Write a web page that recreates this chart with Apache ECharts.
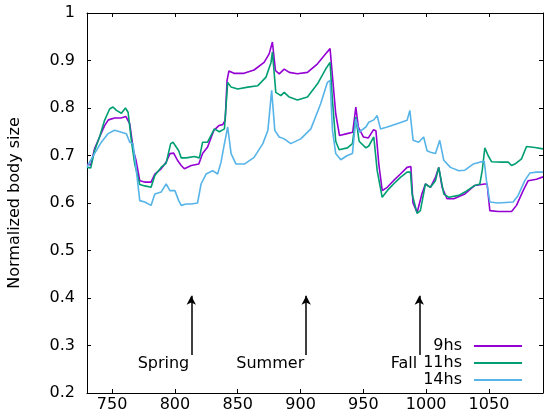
<!DOCTYPE html>
<html>
<head>
<meta charset="utf-8">
<script src="https://cdn.jsdelivr.net/npm/echarts@6/dist/echarts.min.js"></script>
<style>
  html, body { margin: 0; padding: 0; background: #fff; }
  #main { width: 550px; height: 420px; }
</style>
</head>
<body>
<div id="main"></div>
<script>
// 9hs
var days9 = [730, 733, 736, 740, 744, 747, 752, 757, 761, 764, 767, 769, 772, 776, 781, 784, 789, 793, 796, 799,
  802, 805, 807.5, 813, 819, 822, 826, 831, 835, 838, 840, 841.5, 843, 847, 855, 863, 871, 875, 877.6, 880,
  883, 887, 891, 897.5, 905.5, 913.5, 920, 923.5, 925, 928, 931, 937, 941.5, 944, 946, 950, 954, 958, 960, 962.3,
  965, 969, 974, 979.5, 984.8, 987.8, 989.5, 992.8, 996.7, 999.4, 1003.4, 1007.4, 1010, 1012.7, 1016.6, 1022, 1030.8, 1038.7, 1046.7, 1048.5,
  1050.7, 1057.3, 1068, 1071.9, 1077.2, 1081.2, 1087.8, 1093];
var size9 = [0.682, 0.680, 0.714, 0.739, 0.763, 0.775, 0.779, 0.779, 0.782, 0.767, 0.710, 0.690, 0.647, 0.644, 0.644, 0.661, 0.672, 0.686, 0.704, 0.705,
  0.690, 0.679, 0.672, 0.679, 0.682, 0.704, 0.718, 0.753, 0.763, 0.765, 0.774, 0.858, 0.878, 0.873, 0.873, 0.880, 0.896, 0.914, 0.939, 0.879,
  0.872, 0.882, 0.875, 0.872, 0.875, 0.893, 0.914, 0.925, 0.879, 0.788, 0.742, 0.746, 0.749, 0.802, 0.760, 0.739, 0.737, 0.754, 0.752, 0.682,
  0.626, 0.633, 0.647, 0.661, 0.675, 0.677, 0.600, 0.580, 0.620, 0.640, 0.633, 0.654, 0.675, 0.633, 0.609, 0.609, 0.619, 0.637, 0.640, 0.640,
  0.584, 0.582, 0.582, 0.595, 0.626, 0.647, 0.650, 0.655];

// 11hs
var days11 = [730, 733, 736, 740, 744, 748, 750.7, 753.4, 757.4, 760.6, 762.7, 765.3, 768, 772, 776, 781, 784, 789, 793, 796.6,
  798.5, 801, 803, 805, 809, 815.5, 819.5, 822, 826, 831.4, 835.4, 839.4, 842, 844.7, 850, 858, 866, 872.5, 876.5, 877.6,
  880.3, 884.3, 887, 891, 897.5, 905.5, 913.5, 920, 923.5, 925.4, 928, 930.7, 937.3, 941.3, 944, 946.6, 952, 954.3, 958.3, 961,
  965, 969, 974, 979.5, 984.8, 987.5, 988.8, 992.8, 995.4, 999.4, 1003.4, 1007.4, 1010, 1014, 1018, 1026, 1030.8, 1038.7, 1042.7, 1044.6,
  1046.7, 1049.3, 1052, 1060, 1065.3, 1068, 1070.6, 1075.9, 1079.9, 1086.5, 1093];
var size11 = [0.675, 0.674, 0.710, 0.739, 0.774, 0.798, 0.802, 0.795, 0.789, 0.800, 0.791, 0.732, 0.682, 0.639, 0.636, 0.633, 0.658, 0.675, 0.684, 0.725,
  0.728, 0.718, 0.710, 0.695, 0.695, 0.698, 0.695, 0.728, 0.728, 0.756, 0.750, 0.756, 0.854, 0.844, 0.840, 0.844, 0.847, 0.865, 0.896, 0.918,
  0.833, 0.826, 0.833, 0.823, 0.817, 0.823, 0.851, 0.882, 0.896, 0.815, 0.730, 0.712, 0.716, 0.725, 0.781, 0.730, 0.716, 0.720, 0.739, 0.668,
  0.612, 0.626, 0.640, 0.654, 0.665, 0.665, 0.619, 0.578, 0.584, 0.640, 0.633, 0.647, 0.675, 0.619, 0.612, 0.616, 0.623, 0.637, 0.640, 0.668,
  0.716, 0.700, 0.687, 0.686, 0.686, 0.679, 0.682, 0.693, 0.719, 0.717, 0.714];

// 14hs
var days14 = [730, 732, 736, 741.4, 746.7, 752, 757.4, 761.3, 764, 766.6, 769.3, 772, 776, 781, 784, 789, 793, 796, 800, 803,
  805, 809, 813, 818, 820.8, 824.8, 830, 834, 836.7, 839.4, 842, 844.7, 848.6, 855.3, 863, 870, 874, 877, 879.5, 883,
  887, 892.2, 900.2, 908.2, 916, 921.4, 923.5, 925.4, 928, 932, 937.3, 941.3, 944, 946.6, 952, 954.3, 958.3, 961, 963.6, 969,
  976.8, 984.8, 987, 989.6, 994, 998, 1000.7, 1003.4, 1007.4, 1010.8, 1014, 1019.3, 1026, 1030.8, 1037.4, 1042.7, 1046.2, 1048, 1050.7, 1057.3,
  1069.2, 1073.2, 1078.5, 1082.5, 1087.8, 1093];
var size14 = [0.675, 0.686, 0.704, 0.728, 0.746, 0.753, 0.749, 0.746, 0.728, 0.725, 0.668, 0.605, 0.602, 0.595, 0.619, 0.623, 0.640, 0.626, 0.626, 0.605,
  0.595, 0.598, 0.598, 0.600, 0.640, 0.661, 0.668, 0.661, 0.686, 0.725, 0.760, 0.704, 0.682, 0.682, 0.696, 0.725, 0.753, 0.837, 0.753, 0.739,
  0.735, 0.725, 0.735, 0.756, 0.809, 0.854, 0.858, 0.753, 0.704, 0.691, 0.700, 0.704, 0.777, 0.749, 0.760, 0.770, 0.775, 0.784, 0.756, 0.760,
  0.767, 0.774, 0.795, 0.732, 0.728, 0.739, 0.710, 0.707, 0.704, 0.732, 0.690, 0.675, 0.668, 0.669, 0.682, 0.686, 0.688, 0.647, 0.602, 0.600,
  0.602, 0.616, 0.647, 0.663, 0.665, 0.665];

var seriesNames = ['9hs', '11hs', '14hs'];
var seriesColors = ['#9400d3', '#009e73', '#56b4e9'];

// season arrows
var seasonNames = ['Spring', 'Summer', 'Fall'];
var seasonDays = [813, 904.5, 994.5];
var arrowFrom = 0.28, arrowTo = 0.405, seasonLabelY = 0.262;

var xTicks = [750, 800, 850, 900, 950, 1000, 1050];

var FONT = 'DejaVu Sans';

function pairs(xs, ys) {
  return xs.map(function (x, i) { return [x, ys[i]]; });
}

var chart = echarts.init(document.getElementById('main'));

var lineSeries = [pairs(days9, size9), pairs(days11, size11), pairs(days14, size14)].map(function (d, i) {
  return {
    name: seriesNames[i],
    type: 'line',
    data: d,
    symbol: 'none',
    lineStyle: { width: 1.6, color: seriesColors[i] },
    itemStyle: { color: seriesColors[i] }
  };
});

var arrowLines = seasonDays.map(function (d) {
  return [{ coord: [d, arrowFrom] }, { coord: [d, arrowTo] }];
});

chart.setOption({
  animation: false,
  grid: { left: 87, right: 7, top: 13, bottom: 27, outerBoundsMode: 'none', containLabel: false },
  legend: {
    data: seriesNames,
    orient: 'vertical',
    align: 'right',
    right: 28,
    top: 338,
    padding: 0,
    icon: 'rect',
    itemWidth: 48,
    itemHeight: 2,
    itemGap: 1,
    textStyle: { fontFamily: FONT, fontSize: 16, color: '#000', padding: [0, 7, 0, 0] }
  },
  xAxis: [{
    type: 'value',
    min: 730,
    max: 1093,
    position: 'bottom',
    splitLine: { show: false },
    axisLine: { lineStyle: { color: '#000', width: 1 } },
    axisTick: { inside: true, length: 4, customValues: xTicks, lineStyle: { color: '#000' } },
    axisLabel: {
      customValues: xTicks, margin: 4, color: '#000', fontFamily: FONT, fontSize: 16,
      formatter: function (v) { return String(v); }
    }
  }, {
    type: 'value',
    min: 730,
    max: 1093,
    position: 'top',
    splitLine: { show: false },
    axisLine: { lineStyle: { color: '#000', width: 1 } },
    axisTick: { inside: true, length: 4, customValues: xTicks, lineStyle: { color: '#000' } },
    axisLabel: { show: false }
  }],
  yAxis: [{
    type: 'value',
    min: 0.2,
    max: 1,
    interval: 0.1,
    position: 'left',
    name: 'Normalized body size',
    nameLocation: 'middle',
    nameGap: 64,
    nameTextStyle: { fontFamily: FONT, fontSize: 16, color: '#000' },
    splitLine: { show: false },
    axisLine: { show: true, lineStyle: { color: '#000', width: 1 } },
    axisTick: { show: true, inside: true, length: 4, lineStyle: { color: '#000' } },
    axisLabel: {
      margin: 12, color: '#000', fontFamily: FONT, fontSize: 16,
      formatter: function (v) { return Math.abs(v - 1) < 1e-9 ? '1' : v.toFixed(1); }
    }
  }, {
    type: 'value',
    min: 0.2,
    max: 1,
    interval: 0.1,
    position: 'right',
    splitLine: { show: false },
    axisLine: { show: true, lineStyle: { color: '#000', width: 1 } },
    axisTick: { show: true, inside: true, length: 4, lineStyle: { color: '#000' } },
    axisLabel: { show: false }
  }],
  series: lineSeries.concat([{
    name: 'seasons',
    type: 'scatter',
    silent: true,
    symbolSize: 0,
    itemStyle: { opacity: 1, color: '#000' },
    data: seasonDays.map(function (d) { return [d, seasonLabelY]; }),
    label: {
      show: true,
      position: 'left',
      distance: 2,
      color: '#000',
      opacity: 1,
      fontFamily: FONT,
      fontSize: 16,
      formatter: function (p) { return seasonNames[p.dataIndex]; }
    },
    markLine: {
      silent: true,
      symbol: ['none', 'arrow'],
      symbolSize: [7, 9],
      label: { show: false },
      lineStyle: { color: '#000', width: 1.5, type: 'solid', opacity: 1 },
      data: arrowLines
    }
  }])
});
</script>
</body>
</html>
